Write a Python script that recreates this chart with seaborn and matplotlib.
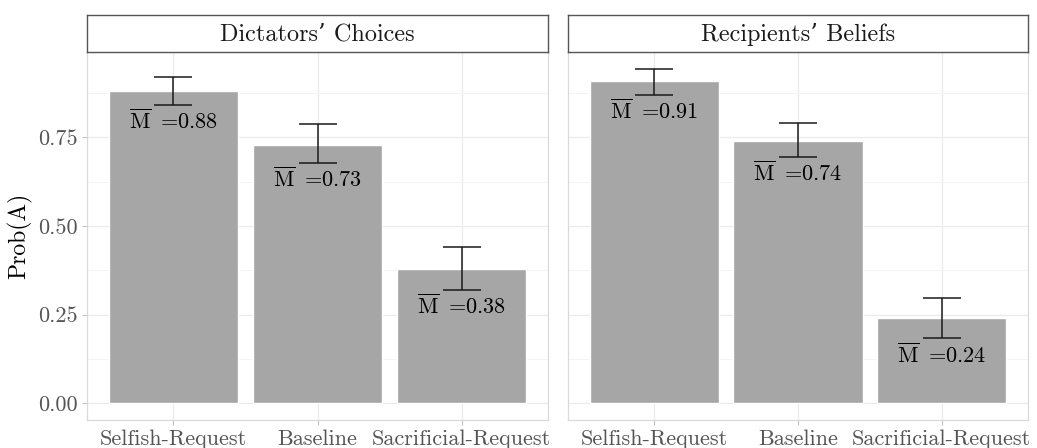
import matplotlib
matplotlib.use("Agg")
import matplotlib.pyplot as plt
import seaborn as sns
import pandas as pd
import numpy as np
from matplotlib.ticker import MultipleLocator

conditions = ["Selfish-Request", "Baseline", "Sacrificial-Request"]
panels = ["Dictators\u2019 Choices", "Recipients\u2019 Beliefs"]

dictator_means = [0.88, 0.73, 0.38]
dictator_lower = [0.841, 0.679, 0.320]
dictator_upper = [0.921, 0.787, 0.440]

recipient_means = [0.91, 0.74, 0.24]
recipient_lower = [0.869, 0.694, 0.183]
recipient_upper = [0.944, 0.791, 0.296]

y_ticks = [0.00, 0.25, 0.50, 0.75]
y_label = "Prob(A)"

sns.set_theme(style="white")
plt.rcParams["font.family"] = ["cmr10", "DejaVu Serif"]
plt.rcParams["mathtext.fontset"] = "cm"
plt.rcParams["axes.unicode_minus"] = False
plt.rcParams["axes.formatter.use_mathtext"] = True

BAR = "#A6A6A6"
GRID = "#EBEBEB"
TICKCOL = "#555555"

fig = plt.figure(figsize=(10.37, 4.48), dpi=100)
W, H = 1037.0, 448.0
panel_x = [(87, 548), (568, 1028)]
top, bottom = 52, 420
strip_top = 15

series = [
    (dictator_means, dictator_lower, dictator_upper),
    (recipient_means, recipient_lower, recipient_upper),
]

for i, ((x0, x1), title, (m, lo, hi)) in enumerate(zip(panel_x, panels, series)):
    ax = fig.add_axes([x0 / W, (H - bottom) / H, (x1 - x0) / W, (bottom - top) / H])
    df = pd.DataFrame({"condition": conditions, "prob": m})
    sns.barplot(data=df, x="condition", y="prob", color=BAR, saturation=1,
                width=0.9, ax=ax, zorder=2, errorbar=None)
    xs = np.arange(len(conditions))
    m_arr = np.array(m)
    yerr = np.vstack([m_arr - np.array(lo), np.array(hi) - m_arr])
    ax.errorbar(xs, m_arr, yerr=yerr, fmt="none", ecolor="#1a1a1a",
                elinewidth=1.1, capsize=13.5, capthick=1.1, zorder=3)
    for x, v, l in zip(xs, m, lo):
        ax.text(x, l - 0.01, r"$\overline{\mathrm{M}}\,$ =" + f"{v:.2f}",
                ha="center", va="top", fontsize=16, color="black", zorder=4)

    ax.set_xlim(-0.6, 2.6)
    ax.set_ylim(-0.047, 0.991)
    ax.set_yticks(y_ticks)
    ax.yaxis.set_minor_locator(MultipleLocator(0.125))
    ax.set_axisbelow(True)
    ax.grid(True, which="major", color=GRID, lw=0.9, zorder=0)
    ax.grid(True, which="minor", axis="y", color="#F4F4F4", lw=0.7, zorder=0)
    for s in ax.spines.values():
        s.set_color("#DADADA")
        s.set_linewidth(0.9)
    ax.tick_params(axis="both", which="major", length=3.6, width=0.7,
                   color="#BBBBBB", labelcolor=TICKCOL, labelsize=16, pad=3,
                   bottom=True, left=(i == 0))
    ax.tick_params(axis="both", which="minor", length=0)
    ax.set_xlabel("")
    if i == 0:
        ax.set_yticklabels([f"{t:.2f}" for t in y_ticks])
        ax.set_ylabel(y_label, fontsize=17, color="black", labelpad=4)
    else:
        ax.set_yticklabels([])
        ax.set_ylabel("")

    sax = fig.add_axes([x0 / W, (H - top) / H, (x1 - x0) / W, (top - strip_top) / H])
    sax.set_xticks([])
    sax.set_yticks([])
    sax.set_facecolor("white")
    for s in sax.spines.values():
        s.set_color("#555555")
        s.set_linewidth(1.0)
    sax.text(0.5, 0.47, title, ha="center", va="center", fontsize=17.5,
             color="#1a1a1a", transform=sax.transAxes)

fig.savefig("out.png", dpi=100)
